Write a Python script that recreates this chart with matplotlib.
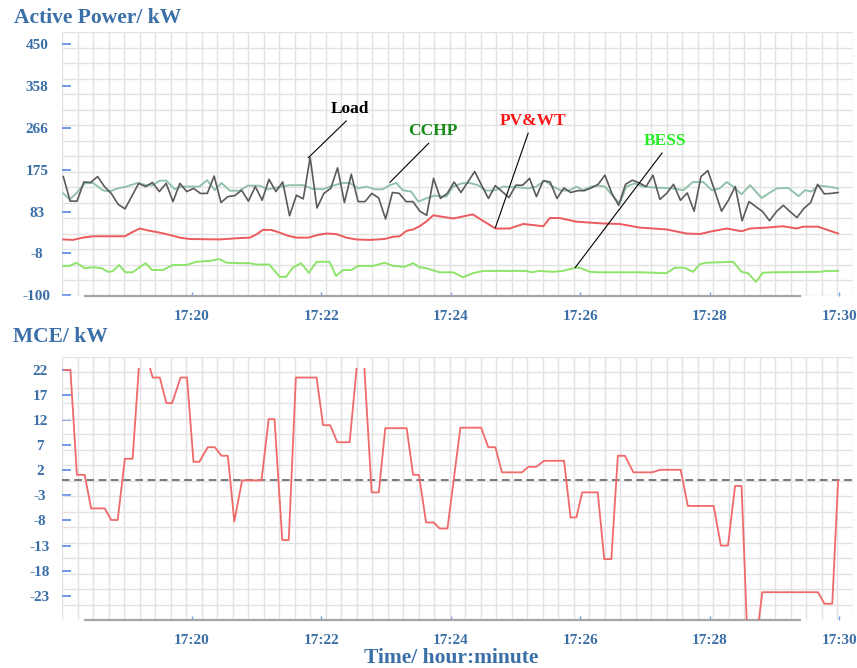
import numpy as np
import matplotlib
matplotlib.use("Agg")
import matplotlib.pyplot as plt
from matplotlib.patches import Rectangle

plt.rcParams["font.family"] = ["Liberation Serif", "DejaVu Serif"]
plt.rcParams["font.weight"] = "bold"

# time axis: minutes after 17:18
xticks = [2, 4, 6, 8, 10, 12]
xlabels = ["17:20", "17:22", "17:24", "17:26", "17:28", "17:30"]

# active power (kW)
p_ticks = [-100, -8, 83, 175, 266, 358, 450]
p_labels = ["-100", "-8", "83", "175", "266", "358", "450"]

load_kw = [160, 106, 106, 148, 147, 160, 138, 123, 99, 89,
           117, 145, 138, 147, 127, 145, 105, 145, 127, 134,
           123, 123, 161, 103, 116, 118, 130, 106, 138, 108,
           154, 127, 148, 74, 119, 111, 202, 91, 123, 134,
           179, 103, 165, 105, 105, 123, 113, 67, 125, 123,
           105, 105, 84, 75, 156, 112, 123, 148, 125, 148,
           171, 141, 112, 140, 127, 114, 141, 141, 156, 116,
           151, 148, 112, 135, 125, 129, 129, 135, 143, 163,
           123, 97, 143, 152, 146, 138, 163, 110, 123, 143,
           108, 124, 84, 160, 173, 129, 84, 108, 138, 63,
           105, 94, 83, 63, 83, 97, 83, 70, 90, 103,
           143, 122, 123, 125]
load_t = np.linspace(0.02, 11.98, len(load_kw))  # evenly sampled

cchp_t = [0.02, 0.12, 0.22, 0.35, 0.48, 0.63, 0.73, 0.86, 0.99, 1.17,
          1.30, 1.40, 1.51, 1.61, 1.74, 1.84, 2.12, 2.24, 2.36, 2.46,
          2.59, 2.74, 2.87, 3.05, 3.18, 3.31, 3.51, 3.72, 3.87, 4.03,
          4.18, 4.34, 4.44, 4.57, 4.70, 4.83, 4.95, 5.06, 5.16, 5.26,
          5.39, 5.50, 5.62, 5.75, 5.93, 6.04, 6.17, 6.29, 6.42, 6.55,
          6.68, 6.81, 7.07, 7.19, 7.32, 7.45, 7.58, 7.71, 7.84, 7.94,
          8.04, 8.17, 8.28, 8.38, 8.51, 8.61, 8.71, 8.84, 8.97, 9.12,
          9.43, 9.59, 9.74, 9.90, 10.03, 10.15, 10.26, 10.36, 10.49, 10.62,
          10.80, 11.03, 11.21, 11.37, 11.47, 11.57, 11.67, 11.83, 11.98]
cchp_kw = [123, 110, 123, 145, 146, 130, 127, 134, 138, 146,
           141, 141, 151, 151, 132, 138, 138, 152, 130, 146,
           129, 129, 140, 140, 132, 136, 141, 141, 133, 132,
           140, 146, 146, 134, 138, 132, 132, 141, 146, 130,
           127, 105, 112, 118, 116, 138, 145, 146, 141, 129,
           130, 138, 136, 134, 138, 151, 138, 129, 130, 138,
           130, 138, 140, 138, 116, 101, 138, 145, 138, 136,
           134, 130, 148, 148, 130, 134, 148, 138, 121, 141,
           113, 134, 135, 117, 130, 127, 140, 138, 134]

pv_t = [0.02, 0.17, 0.32, 0.48, 0.97, 1.07, 1.20, 1.35, 1.51, 1.66,
        1.82, 1.97, 2.43, 2.74, 2.90, 3.00, 3.10, 3.23, 3.36, 3.49,
        3.62, 3.80, 3.95, 4.08, 4.23, 4.39, 4.54, 4.75, 4.98, 5.11,
        5.21, 5.32, 5.42, 5.52, 5.62, 5.73, 6.04, 6.34, 6.69, 6.91,
        7.12, 7.43, 7.53, 7.68, 7.94, 8.35, 8.61, 8.92, 9.33, 9.64,
        9.85, 10.00, 10.26, 10.49, 10.62, 10.88, 11.13, 11.34, 11.44, 11.67,
        11.98]
pv_kw = [22, 21, 26, 29, 29, 37, 46, 41, 37, 32,
         26, 23, 22, 25, 26, 33, 43, 43, 37, 30,
         26, 26, 32, 35, 34, 26, 22, 21, 23, 28,
         29, 41, 44, 51, 61, 75, 68, 77, 46, 46,
         56, 51, 69, 69, 61, 57, 56, 48, 44, 35,
         34, 39, 46, 40, 46, 48, 51, 46, 50, 50,
         35]

bess_t = [0.02, 0.12, 0.22, 0.35, 0.48, 0.61, 0.71, 0.78, 0.88, 0.98,
          1.09, 1.29, 1.39, 1.56, 1.71, 1.92, 2.07, 2.28, 2.43, 2.54,
          2.74, 2.90, 3.00, 3.20, 3.36, 3.46, 3.56, 3.69, 3.81, 3.93,
          4.13, 4.23, 4.34, 4.47, 4.57, 4.80, 4.98, 5.11, 5.29, 5.42,
          5.52, 5.62, 5.83, 6.04, 6.19, 6.34, 6.50, 7.17, 7.25, 7.37,
          7.58, 7.73, 7.92, 7.99, 8.15, 8.30, 8.92, 9.33, 9.46, 9.61,
          9.74, 9.85, 9.95, 10.36, 10.49, 10.59, 10.71, 10.82, 10.98, 11.70,
          11.80, 11.98]
bess_kw = [-36, -36, -29, -41, -39, -41, -49, -48, -34, -50,
           -50, -30, -45, -45, -34, -34, -27, -25, -21, -29,
           -30, -30, -33, -33, -60, -60, -40, -30, -51, -27,
           -27, -58, -45, -45, -36, -36, -29, -36, -38, -30,
           -39, -41, -50, -50, -61, -52, -47, -47, -50, -47,
           -49, -47, -40, -40, -49, -50, -50, -52, -40, -40,
           -49, -32, -29, -27, -49, -52, -71, -51, -50, -49,
           -47, -47]

# MCE (kW); values above 22 are cut off in the original display
m_ticks = [-23, -18, -13, -8, -3, 2, 7, 12, 17, 22]
m_labels = ["-23", "-18", "-13", "-8", "-3", "2", "7", "12", "17", "22"]
mce_t = [0.04, 0.13, 0.23, 0.35, 0.45, 0.66, 0.76, 0.86, 0.97, 1.09,
         1.20, 1.30, 1.40, 1.51, 1.61, 1.70, 1.83, 1.93, 2.03, 2.12,
         2.25, 2.36, 2.46, 2.56, 2.66, 2.78, 3.08, 3.19, 3.28, 3.40,
         3.50, 3.61, 3.93, 4.03, 4.14, 4.25, 4.44, 4.56, 4.66, 4.78,
         4.89, 4.99, 5.32, 5.42, 5.51, 5.62, 5.74, 5.83, 5.95, 6.15,
         6.47, 6.58, 6.69, 6.79, 7.10, 7.20, 7.32, 7.44, 7.75, 7.85,
         7.94, 8.03, 8.27, 8.37, 8.48, 8.58, 8.69, 8.82, 9.11, 9.23,
         9.55, 9.66, 10.06, 10.17, 10.28, 10.39, 10.49, 10.59, 10.69, 10.81,
         11.67, 11.77, 11.89, 11.98]
mce_kw = [22, 22, 1.1, 1.1, -5.6, -5.6, -7.9, -7.9, 4.3, 4.3,
          25, 25, 20.5, 20.5, 15.4, 15.4, 20.5, 20.5, 3.7, 3.7,
          6.6, 6.6, 4.9, 4.9, -8.2, 0, 0, 12.2, 12.2, -11.9,
          -11.9, 20.5, 20.5, 11, 11, 7.6, 7.6, 24, 24, -2.4,
          -2.4, 10.4, 10.4, 1.1, 1.1, -8.4, -8.4, -9.6, -9.6, 10.5,
          10.5, 6.6, 6.6, 1.6, 1.6, 2.7, 2.7, 3.9, 3.9, -7.4,
          -7.4, -2.4, -2.4, -15.7, -15.7, 4.9, 4.9, 1.6, 1.6, 2.1,
          2.1, -5.1, -5.1, -13, -13, -1.1, -1.1, -35, -35, -22.3,
          -22.3, -24.6, -24.6, 0]

BLUE = "#3b6fa8"
TICK = "#6f98e8"
XMAX = 12.21


def style(ax, ylo, yhi, yticks, ylabels, gstep, ypad):
    ax.set_xlim(0, XMAX)
    ax.set_ylim(ylo, yhi)
    for s in ax.spines.values():
        s.set_visible(False)
    sp = ax.spines["bottom"]
    sp.set_visible(True)
    sp.set_color("#a5a5a5")
    sp.set_linewidth(1.6)
    sp.set_bounds(0.35, 11.39)
    ax.set_xticks(xticks)
    ax.set_xticklabels(xlabels)
    ax.set_yticks(yticks)
    ax.set_yticklabels(ylabels)
    # background grid has its own fixed pitch (~15.5 px), unrelated to the ticks
    ax.set_xticks(np.arange(0, XMAX, 0.2394), minor=True)
    ax.set_yticks(np.arange(yhi, ylo, -gstep), minor=True)
    ax.grid(which="minor", color="#e2e2e2", lw=1.0)
    ax.grid(which="major", visible=False)
    ax.tick_params(which="minor", length=0)
    ax.tick_params(axis="y", which="major", direction="in", length=6.5,
                   width=1.4, color=TICK, pad=ypad, labelsize=11, labelcolor=BLUE)
    ax.tick_params(axis="x", which="major", direction="in", length=3,
                   width=1.0, color=TICK, pad=10, labelsize=11, labelcolor=BLUE)
    for lab in ax.get_yticklabels():
        lab.set_ha("center")
    ax.set_axisbelow(True)


fig = plt.figure(figsize=(8.57, 6.68), dpi=100)
W, H = 857, 668
ax1 = fig.add_axes([62 / W, 1 - 296 / H, (853 - 62) / W, (296 - 32) / H])
ax2 = fig.add_axes([62 / W, 1 - 620 / H, (853 - 62) / W, (620 - 356.7) / H])

style(ax1, -102, 477, p_ticks, p_labels, 34.0, 18)
style(ax2, -27.84, 24.65, m_ticks, m_labels, 3.09, 15.8)

ax1.plot(cchp_t, cchp_kw, color="#93c2aa", lw=1.4, zorder=3)
ax1.plot(load_t, load_kw, color="#5a5a5a", lw=1.2, zorder=4)
ax1.plot(pv_t, pv_kw, color="#ec5a5e", lw=1.4, zorder=3)
ax1.plot(bess_t, bess_kw, color="#8ee46a", lw=1.4, zorder=3)

notes = [("Load", (3.80, 201), (4.45, 308), "black", 0.5),
         ("CCHP", (5.06, 147), (5.72, 259), "#178a17", 0.5),
         ("PV&WT", (6.69, 48), (7.27, 282), "#ff1414", 0.45),
         ("BESS", (7.92, -40), (9.31, 238), "#22ee22", 0.5)]
for txt, xy, xytext, col, rx in notes:
    ax1.annotate(txt, xy=xy, xytext=xytext, textcoords="data", ha="center",
                 va="center", fontsize=12.5, fontweight="bold", color=col,
                 arrowprops=dict(arrowstyle="-", color="black", lw=0.8,
                                 relpos=(rx, 0), shrinkA=1, shrinkB=0),
                 zorder=5)

line, = ax2.plot(mce_t, mce_kw, color="#f06a6a", lw=1.3, zorder=3)
line.set_clip_path(Rectangle((0, -27.84), XMAX, 22.3 + 27.84,
                             transform=ax2.transData))
ax2.axhline(0, color="#555555", lw=1.1, ls=(0, (5, 3)), zorder=2)

fig.text(14 / W, 1 - 18 / H, "Active Power/ kW", fontsize=15.5,
         fontweight="bold", color=BLUE, ha="left", va="center")
fig.text(13 / W, 1 - 337 / H, "MCE/ kW", fontsize=15.5,
         fontweight="bold", color=BLUE, ha="left", va="center")
fig.text(451 / W, 1 - 658 / H, "Time/ hour:minute", fontsize=15.5,
         fontweight="bold", color=BLUE, ha="center", va="center")

fig.savefig("out.png", dpi=100, facecolor="white")
